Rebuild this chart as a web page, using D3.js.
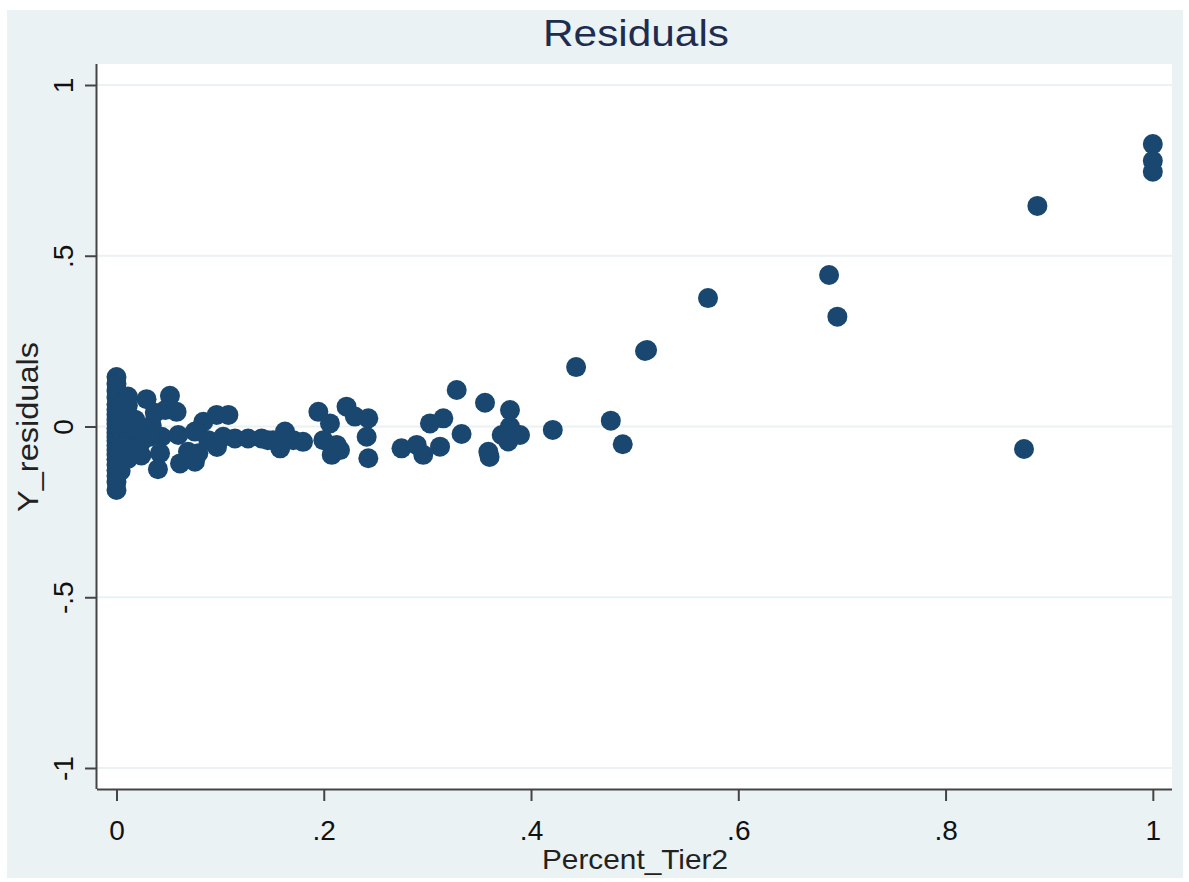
<!DOCTYPE html>
<html>
<head>
<meta charset="utf-8">
<script src="https://cdn.jsdelivr.net/npm/d3@7"></script>
<style>
  html, body { margin: 0; padding: 0; background: #ffffff; }
  svg { display: block; }
  text { font-family: "Liberation Sans", Arial, sans-serif; }
</style>
</head>
<body>
<svg id="chart" width="1189" height="882"></svg>
<script>
// ---- Data ----
const percentTier2 = [
  0,0,0,0,0,0,0,0,0,0,0,0,0,0,0,0,0,0,0,0,0,0,
  0.004,0.004,0.004,0.004,
  0.011,0.011,0.011,0.011,0.011,0.011,0.011,0.011,
  0.018,0.018,0.018,
  0.024,0.024,0.024,
  0.029,0.0516,0.037,0.047,0.058,0.034,0.0436,0.0323,0.0596,0.042,0.040,0.0613,0.0757,
  0.0838,0.0967,0.108,0.0757,0.0886,0.103,0.1143,0.127,0.140,0.146,0.069,0.079,0.097,
  0.151,0.1626,0.1706,0.180,0.158,
  0.1948,0.206,0.222,0.230,0.243,0.2414,0.243,0.1996,0.2125,0.2077,0.2157,
  0.275,0.2897,0.296,0.3025,0.3154,0.3122,0.3283,0.333,
  0.3556,0.3797,0.3717,0.3797,0.3894,0.378,0.3588,0.36,
  0.421,0.4435,0.477,0.4885,0.510,0.512,0.5708,
  0.6876,0.6956,0.8757,0.8886,1.0,1.0,1.0
];
const yResiduals = [
  0.145,0.125,0.105,0.085,0.065,0.05,0.035,0.02,0.008,-0.005,-0.018,-0.03,-0.042,-0.055,-0.068,-0.082,-0.096,-0.112,-0.128,-0.145,-0.162,-0.186,
  0.06,-0.01,-0.07,-0.13,
  0.088,0.062,0.035,0.01,-0.02,-0.045,-0.07,-0.095,
  0.02,-0.035,-0.06,
  -0.01,-0.045,-0.085,
  0.08,0.09,0.04,0.048,0.043,0.004,-0.03,-0.03,-0.025,-0.078,-0.125,-0.108,-0.103,
  0.014,0.034,0.034,-0.015,-0.04,-0.03,-0.035,-0.035,-0.035,-0.04,-0.074,-0.078,-0.06,
  -0.04,-0.015,-0.04,-0.045,-0.064,
  0.043,0.009,0.058,0.029,0.024,-0.03,-0.093,-0.04,-0.054,-0.083,-0.069,
  -0.064,-0.054,-0.083,0.009,0.024,-0.059,0.107,-0.022,
  0.0697,0.048,-0.025,0.0,-0.025,-0.044,-0.074,-0.089,
  -0.010,0.174,0.017,-0.052,0.221,0.224,0.376,
  0.4436,0.3216,-0.066,0.646,0.827,0.778,0.746
];
const xTicks = [0, 0.2, 0.4, 0.6, 0.8, 1];
const yTicks = [-1, -0.5, 0, 0.5, 1];
const titleText = "Residuals";
const xTitle = "Percent_Tier2";
const yTitle = "Y_residuals";

// ---- Layout ----
const svg = d3.select("#chart");
const bg = "#EAF2F3";
const navy = "#1A476F";
const plot = { left: 97, right: 1172, top: 64, bottom: 789 };

svg.append("rect").attr("x", 7).attr("y", 10).attr("width", 1176).attr("height", 868).attr("fill", bg);
svg.append("rect").attr("x", plot.left).attr("y", plot.top)
  .attr("width", plot.right - plot.left).attr("height", plot.bottom - plot.top).attr("fill", "#ffffff");

const x = d3.scaleLinear().domain([-0.0188, 1.0185]).range([plot.left, plot.right]);
const y = d3.scaleLinear().domain([-1.0615, 1.0615]).range([plot.bottom, plot.top]);

const fmt = v => {
  if (v === 0) return "0";
  if (Math.abs(v) === 1) return String(v);
  let s = String(v);
  return s.replace("0.", ".");
};

// gridlines
svg.append("g").selectAll("line").data(yTicks).join("line")
  .attr("x1", plot.left).attr("x2", plot.right)
  .attr("y1", d => y(d)).attr("y2", d => y(d))
  .attr("stroke", bg).attr("stroke-width", 2);

// points
svg.append("g").selectAll("circle").data(percentTier2.map((d, i) => [d, yResiduals[i]])).join("circle")
  .attr("cx", d => x(d[0])).attr("cy", d => y(d[1])).attr("r", 10)
  .attr("fill", navy);

// x axis
const xAxis = d3.axisBottom(x).tickValues(xTicks).tickFormat(fmt).tickSize(12).tickPadding(6);
const gx = svg.append("g").attr("transform", `translate(0,${plot.bottom})`).call(xAxis);
gx.select(".domain").attr("d", `M${plot.left},0.5H${plot.right}`).attr("stroke", "#444").attr("stroke-width", 2);
gx.selectAll(".tick line").attr("stroke", "#444").attr("stroke-width", 2);
gx.selectAll(".tick text").attr("font-size", 28).attr("fill", "#111")
  .attr("font-family", "Liberation Sans, Arial, sans-serif").attr("dy", null).attr("y", 51);

// y axis
const yAxis = d3.axisLeft(y).tickValues(yTicks).tickFormat(fmt).tickSize(12);
const gy = svg.append("g").attr("transform", `translate(${plot.left},0)`).call(yAxis);
gy.select(".domain").attr("d", `M-0.5,${plot.top}V${plot.bottom}`).attr("stroke", "#444").attr("stroke-width", 2);
gy.selectAll(".tick line").attr("stroke", "#444").attr("stroke-width", 2);
gy.selectAll(".tick text").attr("font-size", 28).attr("fill", "#111")
  .attr("font-family", "Liberation Sans, Arial, sans-serif")
  .attr("x", null).attr("dy", null)
  .attr("text-anchor", "middle")
  .attr("transform", "translate(-24,0) rotate(-90)");

// titles
svg.append("text").attr("x", 636).attr("y", 46).attr("text-anchor", "middle")
  .attr("font-size", 37).attr("fill", "#1E2D4F")
  .attr("textLength", 186).attr("lengthAdjust", "spacingAndGlyphs").text(titleText);

svg.append("text").attr("x", 635).attr("y", 869).attr("text-anchor", "middle")
  .attr("font-size", 28).attr("fill", "#222")
  .attr("textLength", 186).attr("lengthAdjust", "spacingAndGlyphs").text(xTitle);

svg.append("text").attr("transform", "translate(38,427) rotate(-90)").attr("text-anchor", "middle")
  .attr("font-size", 29).attr("fill", "#222")
  .attr("textLength", 170).attr("lengthAdjust", "spacingAndGlyphs").text(yTitle);
</script>
</body>
</html>
